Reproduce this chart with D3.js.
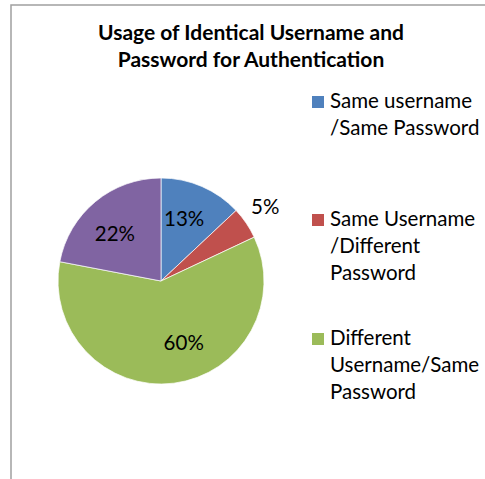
<!DOCTYPE html>
<html>
<head>
<meta charset="utf-8">
<script src="https://cdn.jsdelivr.net/npm/d3@7.9.0/dist/d3.min.js"></script>
<style>
  body { margin: 0; background: #fff; }
  svg { display: block; font-family: Lato, "Noto Sans", sans-serif; }
</style>
</head>
<body>
<script>
// ─── DATA ────────────────────────────────────────────────────────────────────
const categories = ['Same username /Same Password', 'Same Username /Different Password', 'Different Username/Same Password', 'Other'];
const values     = [13, 5, 60, 22];
const colors     = ['#4F81BD', '#C0504D', '#9BBB59', '#8064A2'];
const legendRows = [['Same username', '/Same Password'], ['Same Username', '/Different', 'Password'], ['Different', 'Username/Same', 'Password']];
const titleLines = ['Usage of Identical Username and', 'Password for Authentication'];

// ─── SVG ─────────────────────────────────────────────────────────────────────
const W = 485, H = 479;
const svg = d3.select('body').append('svg')
  .attr('width', W).attr('height', H);

// chart frame (runs off the right and bottom edges)
svg.append('rect')
  .attr('x', 11).attr('y', 5)
  .attr('width', 520).attr('height', 520)
  .attr('fill', 'none')
  .attr('stroke', '#a0a0a0')
  .attr('stroke-width', 1.5);

// title
svg.append('text')
  .attr('x', 251).attr('y', 40)
  .attr('text-anchor', 'middle')
  .attr('font-weight', 'bold')
  .attr('font-size', 21)
  .selectAll('tspan')
  .data(titleLines)
  .enter().append('tspan')
    .attr('x', 251)
    .attr('dy', (d, i) => i ? 27 : 0)
    .text(d => d);

// ─── PIE ─────────────────────────────────────────────────────────────────────
const cx = 161, cy = 281, r = 103;
const pie = d3.pie().sort(null).value(d => d)(values);
const arc = d3.arc().innerRadius(0).outerRadius(r);

const g = svg.append('g').attr('transform', `translate(${cx},${cy})`);
g.selectAll('path')
  .data(pie)
  .enter().append('path')
    .attr('d', arc)
    .attr('fill', (d, i) => colors[i])
    .attr('stroke', '#fff')
    .attr('stroke-width', 0.7);

// label positions: a bit before mid-slice, inside for most, outside for the thin 5% slice
function labelPos(d) {
  const a = d.startAngle + 0.44 * (d.endAngle - d.startAngle);
  const k = d.data < 8 ? 1.24 : 0.64;
  return [Math.sin(a) * r * k, -Math.cos(a) * r * k];
}
g.selectAll('text.lbl')
  .data(pie)
  .enter().append('text')
    .attr('class', 'lbl')
    .attr('transform', d => `translate(${labelPos(d)})`)
    .attr('text-anchor', 'middle')
    .attr('dy', '0.35em')
    .attr('font-size', 20.5)
    .attr('fill', '#000')
    .text(d => d.data + '%');

// ─── LEGEND ──────────────────────────────────────────────────────────────────
const legendTop = [108, 226, 345];
const legend = svg.append('g');
legendRows.forEach((lines, i) => {
  legend.append('rect')
    .attr('x', 312).attr('y', legendTop[i] - 12)
    .attr('width', 12).attr('height', 12)
    .attr('fill', colors[i]);
  legend.append('text')
    .attr('font-size', 20.5)
    .selectAll('tspan')
    .data(lines)
    .enter().append('tspan')
      .attr('x', 330)
      .attr('y', (d, j) => legendTop[i] + j * 27)
      .text(d => d);
});
</script>
</body>
</html>
